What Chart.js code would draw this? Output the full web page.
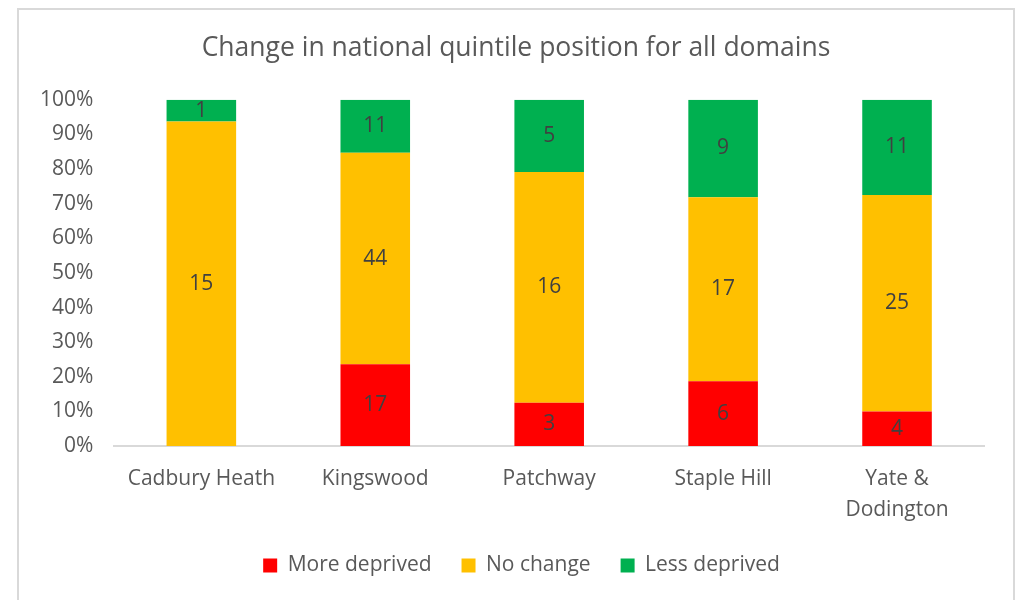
<!DOCTYPE html>
<html>
<head>
<meta charset="utf-8">
<script src="https://cdn.jsdelivr.net/npm/chart.js@4/dist/chart.umd.min.js"></script>
<style>
  body { margin: 0; background: #fff; }
  #frame { position: absolute; left: 17px; top: 8px; width: 998px; height: 600px; border: 2px solid #d9d9d9; border-bottom: none; box-sizing: border-box; }
  #wrap { position: absolute; left: 0; top: 0; width: 994px; height: 598px; }
</style>
</head>
<body>
<div id="frame"><div id="wrap"><canvas id="chart"></canvas></div></div>
<script>
const categories = ['Cadbury Heath', 'Kingswood', 'Patchway', 'Staple Hill', ['Yate &', 'Dodington']];
const moreDeprived = [0, 17, 3, 6, 4];
const noChange = [15, 44, 16, 17, 25];
const lessDeprived = [1, 11, 5, 9, 11];
const yTicks = [0, 10, 20, 30, 40, 50, 60, 70, 80, 90, 100];

const totals = categories.map((c, i) => moreDeprived[i] + noChange[i] + lessDeprived[i]);
const pct = arr => arr.map((v, i) => v / totals[i] * 100);

const FONT = '"Open Sans", "Noto Sans", sans-serif';
const RIGHT_PAD = 29;

// count labels in the middle of each segment
const labelPlugin = {
  id: 'countLabels',
  afterLayout(chart) {
    // centre title and legend on the whole frame, not on the padded area
    if (chart.titleBlock) chart.titleBlock.right += RIGHT_PAD;
    if (chart.legend) { chart.legend.left += 11; chart.legend.right += RIGHT_PAD; }
  },
  afterDatasetsDraw(chart) {
    const ctx = chart.ctx;
    ctx.save();
    ctx.font = '21px ' + FONT;
    ctx.fillStyle = '#404040';
    ctx.textAlign = 'center';
    ctx.textBaseline = 'middle';
    chart.data.datasets.forEach((ds, di) => {
      const meta = chart.getDatasetMeta(di);
      meta.data.forEach((bar, i) => {
        const v = ds.counts[i];
        if (!v) return;
        const y = (bar.y + bar.base) / 2;
        ctx.fillText(String(v), bar.x, y);
      });
    });
    ctx.restore();
  }
};

new Chart(document.getElementById('chart'), {
  type: 'bar',
  data: {
    labels: categories,
    datasets: [
      { label: 'More deprived', data: pct(moreDeprived), counts: moreDeprived, backgroundColor: '#ff0000' },
      { label: 'No change', data: pct(noChange), counts: noChange, backgroundColor: '#ffc000' },
      { label: 'Less deprived', data: pct(lessDeprived), counts: lessDeprived, backgroundColor: '#00b050' }
    ]
  },
  options: {
    responsive: true,
    maintainAspectRatio: false,
    animation: false,
    categoryPercentage: 1,
    barPercentage: 0.4,
    layout: { padding: { left: 0, right: RIGHT_PAD, top: 10, bottom: 22 } },
    plugins: {
      title: {
        display: true,
        text: 'Change in national quintile position for all domains',
        color: '#595959',
        font: { family: FONT, size: 26.5, weight: 'normal' },
        padding: { top: 13, bottom: 35 }
      },
      legend: {
        position: 'bottom',
        labels: {
          color: '#595959',
          font: { family: FONT, size: 21 },
          boxWidth: 14,
          boxHeight: 14,
          padding: 30
        }
      },
      tooltip: { enabled: false }
    },
    scales: {
      x: {
        stacked: true,
        grid: { display: false, drawTicks: false },
        border: { color: '#d9d9d9', width: 2 },
        ticks: { color: '#595959', font: { family: FONT, size: 21, lineHeight: 1.45 }, padding: 18 },
        afterFit: axis => { axis.height -= 18; }
      },
      y: {
        stacked: true,
        min: 0,
        max: 100,
        afterBuildTicks: axis => { axis.ticks = yTicks.map(v => ({ value: v })); },
        grid: { display: false, drawTicks: false },
        border: { display: false },
        ticks: { color: '#595959', font: { family: FONT, size: 21 }, padding: 21, callback: v => v + '%' }
      }
    }
  },
  plugins: [labelPlugin]
});
</script>
</body>
</html>
